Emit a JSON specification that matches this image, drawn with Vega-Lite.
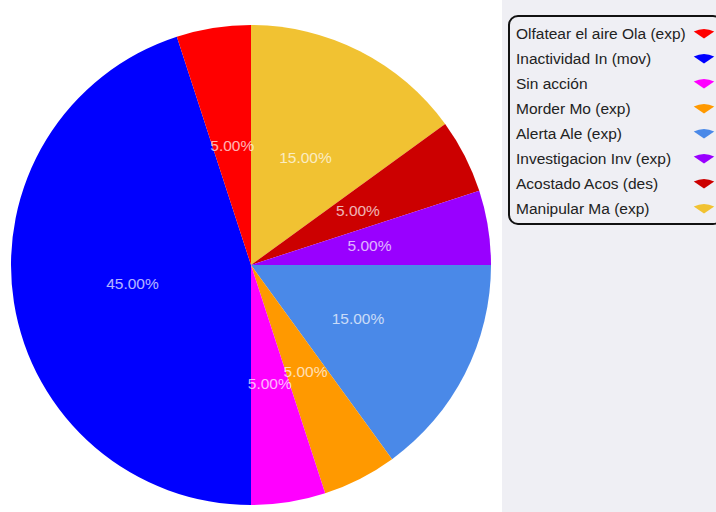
{
  "$schema": "https://vega.github.io/schema/vega-lite/v6.json",
  "width": 502,
  "height": 530,
  "autosize": {"type": "none"},
  "padding": {"left": 0, "top": 0, "bottom": 0, "right": 214},
  "background": "#efeff4",
  "view": {"fill": "white", "stroke": null},
  "data": {
    "values": [
      {"label": "Manipular Ma (exp)", "k": 1, "value": 0.15},
      {"label": "Acostado Acos (des)", "k": 2, "value": 0.05},
      {"label": "Investigacion Inv (exp)", "k": 3, "value": 0.05},
      {"label": "Alerta Ale (exp)", "k": 4, "value": 0.15},
      {"label": "Morder Mo (exp)", "k": 5, "value": 0.05},
      {"label": "Sin acción", "k": 6, "value": 0.05},
      {"label": "Inactividad In (mov)", "k": 7, "value": 0.45},
      {"label": "Olfatear el aire Ola (exp)", "k": 8, "value": 0.05}
    ]
  },
  "encoding": {
    "theta": {"field": "value", "type": "quantitative", "stack": true},
    "order": {"field": "k", "type": "quantitative", "sort": "ascending"},
    "color": {
      "field": "label",
      "type": "nominal",
      "scale": {
        "domain": ["Olfatear el aire Ola (exp)", "Inactividad In (mov)", "Sin acción", "Morder Mo (exp)", "Alerta Ale (exp)", "Investigacion Inv (exp)", "Acostado Acos (des)", "Manipular Ma (exp)"],
        "range": ["#ff0000", "#0000ff", "#ff00ff", "#ff9900", "#4a89e8", "#9900ff", "#cc0000", "#f1c232"]
      },
      "legend": {
        "title": null,
        "orient": "none",
        "legendX": 509,
        "legendY": 16,
        "padding": 7,
        "strokeColor": "#111111",
        "fillColor": "#efeff4",
        "cornerRadius": 9,
        "labelFont": "Liberation Sans",
        "labelFontSize": 15.5,
        "labelColor": "#222222",
        "labelLimit": 400,
        "rowPadding": 6,
        "symbolType": "M0,0.5 L-1,-0.2 Q0,-0.7 1,-0.2 Z",
        "symbolSize": 420,
        "symbolStrokeWidth": 0,
        "symbolOpacity": 1,
        "encode": {
          "legend": {"update": {"strokeWidth": {"value": 2}}},
          "labels": {"update": {"x": {"value": 0}, "align": {"value": "left"}}},
          "symbols": {"update": {"x": {"value": 188}}}
        }
      }
    }
  },
  "layer": [
    {"mark": {"type": "arc", "outerRadius": 240}},
    {
      "mark": {"type": "text", "radius": 120, "font": "Liberation Sans", "fontSize": 15.5, "fill": "white", "opacity": 0.7},
      "encoding": {
        "text": {"field": "value", "type": "quantitative", "format": ".2%"},
        "color": {"value": "white"}
      }
    }
  ]
}
